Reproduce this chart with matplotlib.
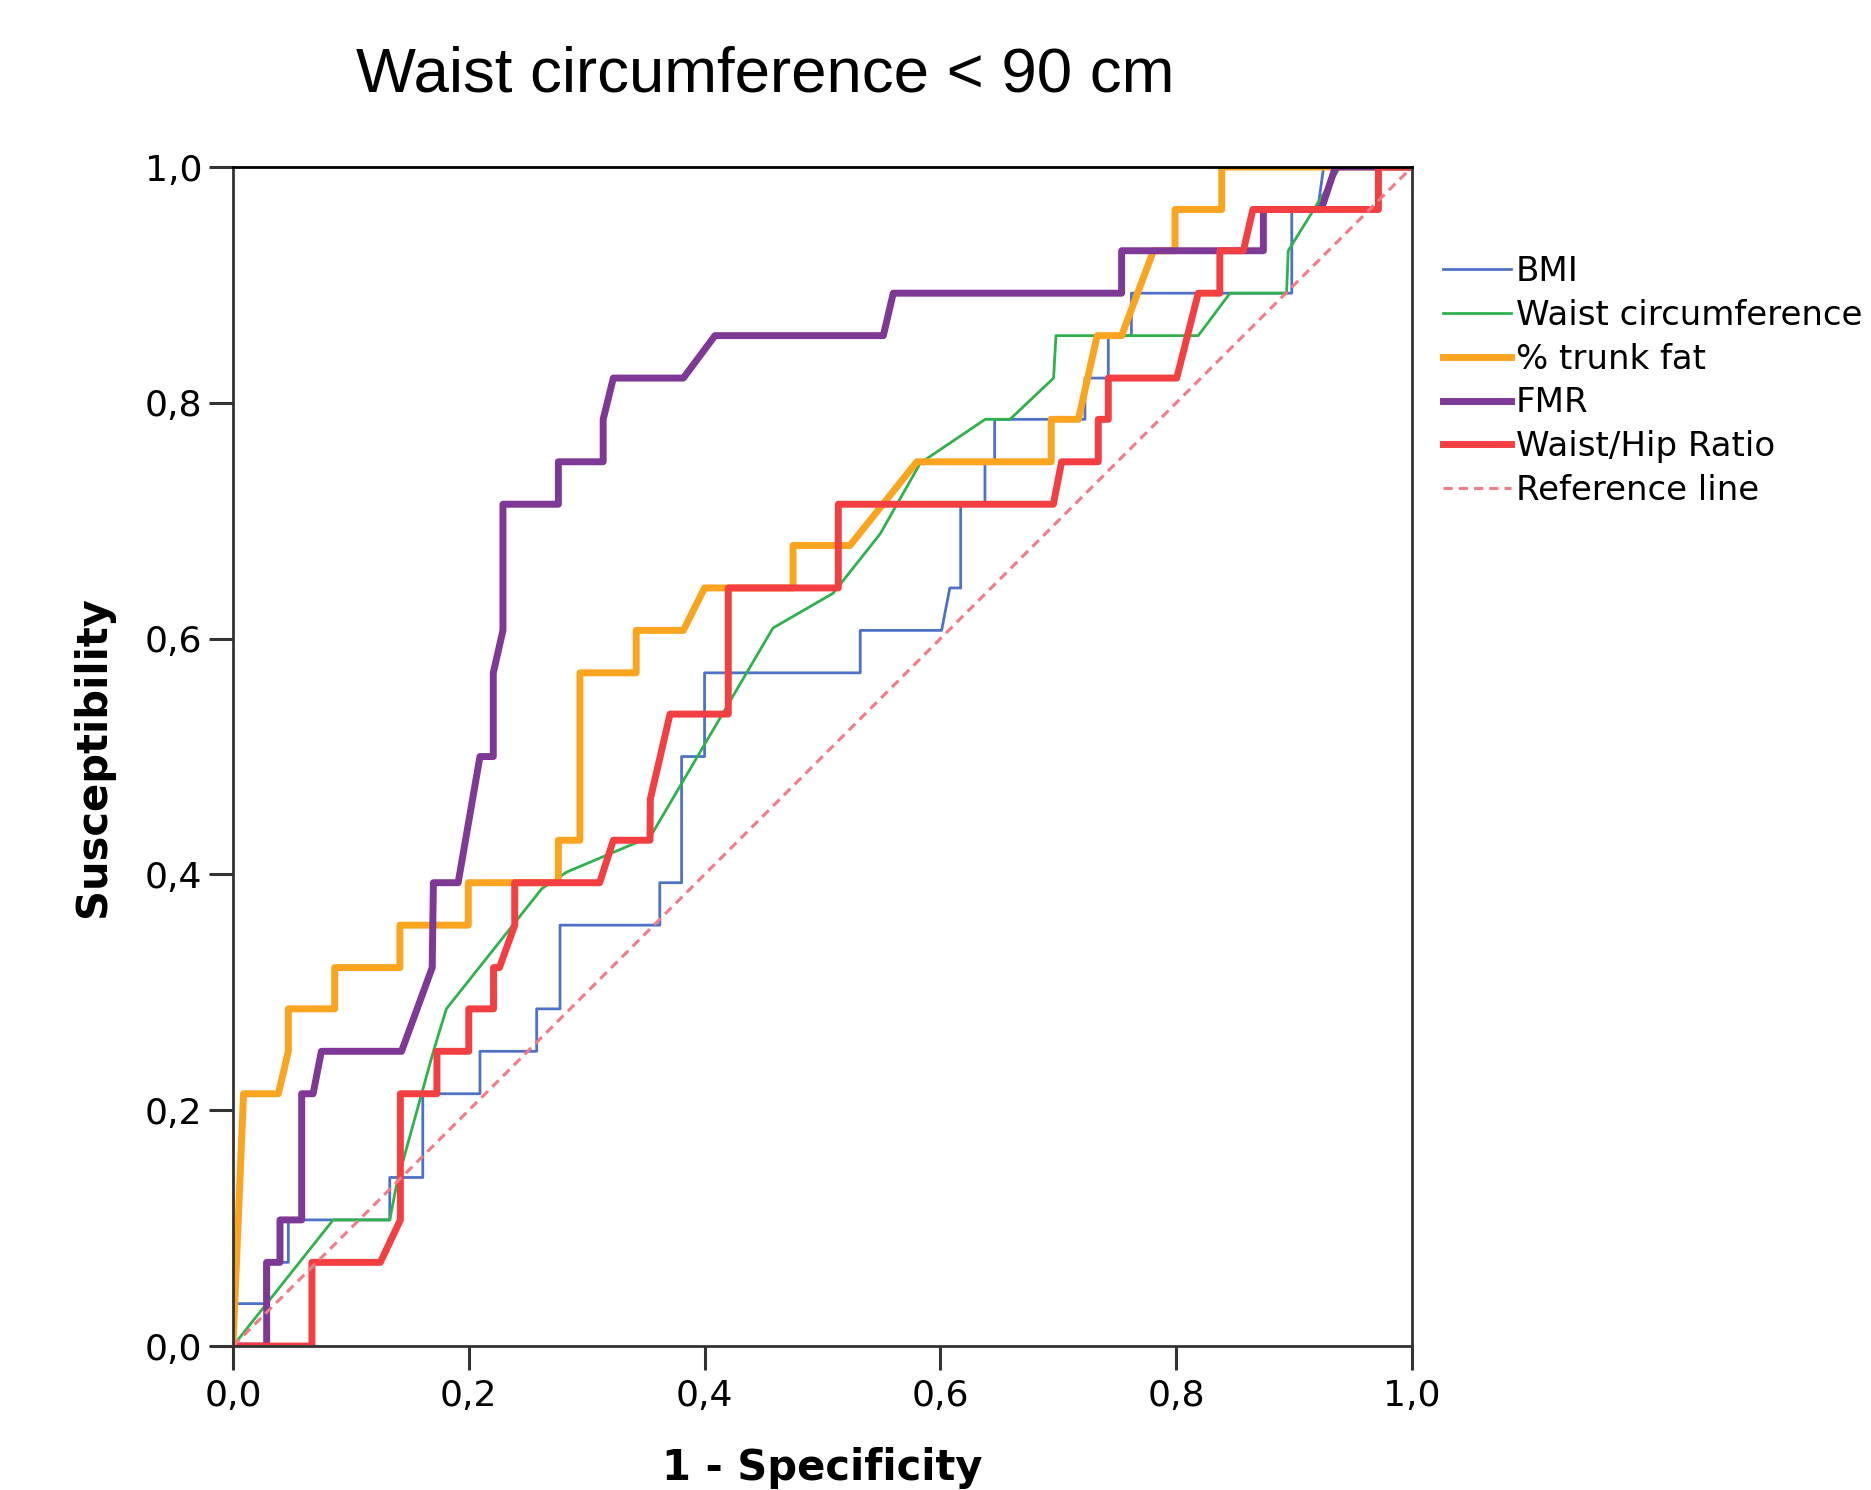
import matplotlib
matplotlib.use("Agg")
import matplotlib.pyplot as plt

# ROC curves (x = 1 - specificity, y = susceptibility)
bmi_x = [0, 0, 0.027, 0.027, 0.047, 0.047, 0.133, 0.133, 0.161, 0.161, 0.2095, 0.2095,
         0.2576, 0.2576, 0.2774, 0.2774, 0.362, 0.362, 0.3805, 0.3805, 0.400, 0.400,
         0.532, 0.532, 0.601, 0.608, 0.6172, 0.6172, 0.6378, 0.6378, 0.646, 0.646,
         0.7226, 0.7226, 0.7424, 0.7424, 0.762, 0.762, 0.898, 0.898, 0.920, 0.925, 1.0]
bmi_y = [0, 0.036, 0.036, 0.071, 0.071, 0.107, 0.107, 0.143, 0.143, 0.214, 0.214, 0.25,
         0.25, 0.286, 0.286, 0.357, 0.357, 0.393, 0.393, 0.5, 0.5, 0.571,
         0.571, 0.607, 0.607, 0.643, 0.643, 0.714, 0.714, 0.75, 0.75, 0.786,
         0.786, 0.821, 0.821, 0.857, 0.857, 0.893, 0.893, 0.964, 0.964, 1.0, 1.0]

waist_x = [0, 0.085, 0.133, 0.139, 0.170, 0.181, 0.262, 0.283, 0.354, 0.458, 0.509,
           0.549, 0.583, 0.638, 0.659, 0.696, 0.698, 0.8187, 0.8456, 0.8936, 0.895,
           0.939, 1.0]
waist_y = [0, 0.107, 0.107, 0.138, 0.25, 0.286, 0.388, 0.402, 0.432, 0.609, 0.6385,
           0.689, 0.749, 0.786, 0.786, 0.821, 0.857, 0.857, 0.893, 0.893, 0.929,
           1.0, 1.0]

trunk_x = [0, 0.009, 0.0385, 0.047, 0.047, 0.0863, 0.0863, 0.1416, 0.1416, 0.1996, 0.1996,
           0.276, 0.276, 0.2943, 0.2943, 0.342, 0.342, 0.382, 0.400, 0.475, 0.475,
           0.5233, 0.580, 0.694, 0.694, 0.717, 0.733, 0.7537, 0.7807, 0.799, 0.799,
           0.8386, 0.8386, 1.0]
trunk_y = [0, 0.214, 0.214, 0.25, 0.286, 0.286, 0.321, 0.321, 0.357, 0.357, 0.393,
           0.393, 0.429, 0.429, 0.571, 0.571, 0.607, 0.607, 0.643, 0.643, 0.679,
           0.679, 0.75, 0.75, 0.786, 0.786, 0.857, 0.857, 0.929, 0.929, 0.964,
           0.964, 1.0, 1.0]

fmr_x = [0, 0.0286, 0.0286, 0.0399, 0.0399, 0.0583, 0.0583, 0.068, 0.075, 0.143, 0.169,
         0.170, 0.191, 0.2095, 0.2208, 0.2208, 0.229, 0.229, 0.276, 0.276, 0.314, 0.314,
         0.3226, 0.382, 0.4088, 0.5516, 0.560, 0.7537, 0.7537, 0.8739, 0.8739, 0.923,
         0.935, 1.0]
fmr_y = [0, 0, 0.071, 0.071, 0.107, 0.107, 0.214, 0.214, 0.25, 0.25, 0.321,
         0.393, 0.393, 0.5, 0.5, 0.571, 0.607, 0.714, 0.714, 0.75, 0.75, 0.786,
         0.821, 0.821, 0.857, 0.857, 0.893, 0.893, 0.929, 0.929, 0.964, 0.964,
         1.0, 1.0]

whr_x = [0, 0.067, 0.067, 0.125, 0.142, 0.142, 0.173, 0.173, 0.200, 0.200, 0.221, 0.221,
         0.226, 0.239, 0.239, 0.311, 0.3226, 0.3537, 0.354, 0.3707, 0.4201, 0.4201,
         0.5134, 0.5134, 0.6958, 0.7028, 0.7339, 0.7339, 0.7424, 0.7424, 0.8004,
         0.8187, 0.837, 0.837, 0.857, 0.865, 0.9715, 0.9715, 1.0]
whr_y = [0, 0, 0.071, 0.071, 0.107, 0.214, 0.214, 0.25, 0.25, 0.286, 0.286, 0.321,
         0.321, 0.357, 0.393, 0.393, 0.429, 0.429, 0.464, 0.536, 0.536, 0.643,
         0.643, 0.714, 0.714, 0.75, 0.75, 0.786, 0.786, 0.821, 0.821,
         0.893, 0.893, 0.929, 0.929, 0.964, 0.964, 1.0, 1.0]

ref_x = [0, 1]
ref_y = [0, 1]

tick_vals = [0, 0.2, 0.4, 0.6, 0.8, 1.0]
tick_labels = ["0,0", "0,2", "0,4", "0,6", "0,8", "1,0"]

fig = plt.figure(figsize=(18.71, 14.90), dpi=100)
ax = fig.add_axes([0.1245, 0.0966, 0.6302, 0.7913])

ax.plot(bmi_x, bmi_y, color="#4f72c6", lw=2.0, label="BMI")
ax.plot(waist_x, waist_y, color="#2fb24c", lw=2.0, label="Waist circumference")
ax.plot(trunk_x, trunk_y, color="#fba41f", lw=5.0, label="% trunk fat")
ax.plot(fmr_x, fmr_y, color="#7e3896", lw=5.0, label="FMR")
ax.plot(whr_x, whr_y, color="#f43f42", lw=5.0, label="Waist/Hip Ratio")
ax.plot(ref_x, ref_y, color="#f47a87", lw=2.2, ls=(0, (3, 2)), label="Reference line")

ax.set_xlim(0, 1)
ax.set_ylim(0, 1)
ax.set_xticks(tick_vals)
ax.set_xticklabels(tick_labels)
ax.set_yticks(tick_vals)
ax.set_yticklabels(tick_labels)
ax.tick_params(axis="both", length=17, width=2.2, color="#333333", labelsize=26)
ax.tick_params(axis="x", pad=7)
ax.tick_params(axis="y", pad=5)
for s in ax.spines.values():
    s.set_linewidth(2)
    s.set_color("#333333")
ax.spines["top"].set_color("black")

ax.set_xlabel("1 - Specificity", fontsize=30, fontweight="bold", labelpad=24)
ax.set_ylabel("Susceptibility", fontsize=30, fontweight="bold", labelpad=22)

fig.text(0.409, 0.950, "Waist circumference < 90 cm", fontsize=45.7,
         family="Liberation Sans", ha="center", va="center")

fig.legend(loc="upper left", bbox_to_anchor=(0.7710, 0.829), frameon=False,
           fontsize=24.5, handlelength=2.0, handletextpad=0.15, labelspacing=0.32,
           borderpad=0, borderaxespad=0)

fig.savefig("out.png", dpi=100)
